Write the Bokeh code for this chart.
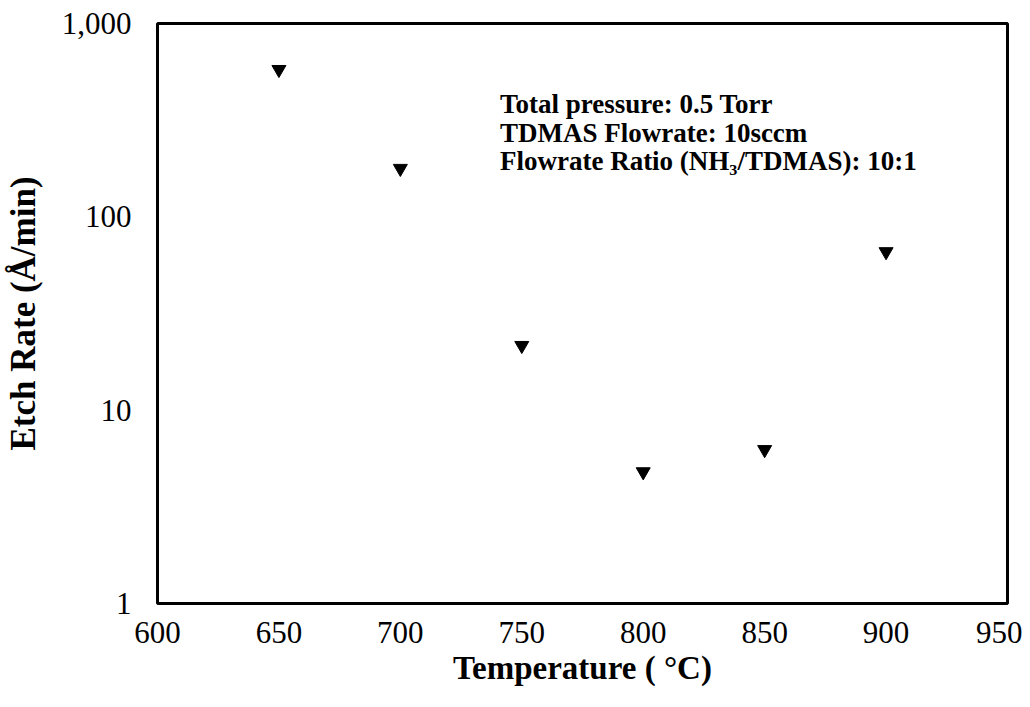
from bokeh.plotting import figure
from bokeh.models import FixedTicker, Label, Range1d
from bokeh.embed import file_html
from bokeh.resources import INLINE

# Data
temperature = [650, 700, 750, 800, 850, 900]
etch_rate = [578, 178, 21.6, 4.8, 6.25, 66]

x_ticks = [600, 650, 700, 750, 800, 850, 900, 950]
y_ticks = [1, 10, 100, 1000]
y_tick_labels = ["1", "10", "100", "1,000"]

notes = [
    "Total pressure: 0.5 Torr",
    "TDMAS Flowrate: 10sccm",
    "Flowrate Ratio (NH\u2083/TDMAS): 10:1",
]
note_x = 741
note_y = [385, 273, 195]

SERIF = "Liberation Serif"

p = figure(
    width=1022, height=698,
    x_range=Range1d(600, 950), y_range=Range1d(1, 1000),
    y_axis_type="log",
    output_backend="svg", toolbar_location=None,
    min_border_left=157, min_border_right=15,
    min_border_top=23, min_border_bottom=95,
)
p.background_fill_color = "white"
p.border_fill_color = "white"
p.grid.visible = False
p.outline_line_color = "black"
p.outline_line_width = 3
p.outline_line_alpha = 1

p.scatter(temperature, etch_rate, marker="inverted_triangle", size=14,
          fill_color="black", line_color="black")

p.xaxis.ticker = FixedTicker(ticks=x_ticks)
p.yaxis.ticker = FixedTicker(ticks=y_ticks, minor_ticks=[])
p.yaxis.major_label_overrides = {t: s for t, s in zip(y_ticks, y_tick_labels)}

for ax in (p.xaxis, p.yaxis):
    ax.axis_line_color = None
    ax.major_tick_line_color = None
    ax.minor_tick_line_color = None
    ax.major_label_text_font = SERIF
    ax.major_label_text_font_size = "31px"
    ax.major_label_text_color = "black"
    ax.axis_label_text_font = SERIF
    ax.axis_label_text_font_style = "bold"
    ax.axis_label_text_color = "black"

p.xaxis.axis_label = "Temperature ( \u00b0C)"
p.yaxis.axis_label = "Etch Rate (\u00c5/min)"
p.xaxis.axis_label_text_font_size = "33px"
p.yaxis.axis_label_text_font_size = "35px"
p.xaxis.major_label_standoff = 12
p.xaxis.axis_label_standoff = 4
p.yaxis.major_label_standoff = 20
p.yaxis.axis_label_standoff = 16

for txt, yy in zip(notes, note_y):
    p.add_layout(Label(x=note_x, y=yy, text=txt, text_font=SERIF,
                       text_font_style="bold", text_font_size="27px",
                       text_baseline="middle", text_color="black"))

open("out.html", "w").write(file_html(p, INLINE))
